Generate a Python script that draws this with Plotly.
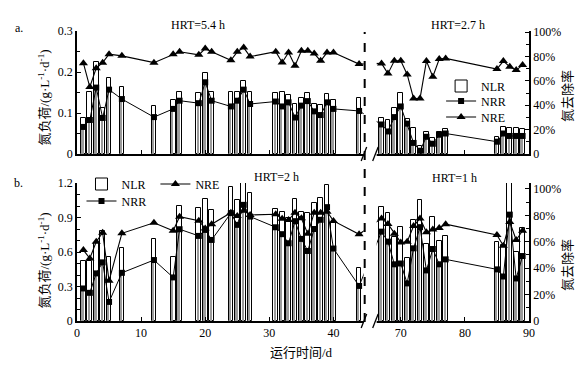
import plotly.graph_objects as go

# ---------------- data ----------------
days = [1, 2, 3, 4, 5, 7, 12, 15, 16, 19, 20, 21, 24, 25, 26, 27, 31, 32, 33, 34, 35, 36, 37, 38, 39, 40, 44,
        67, 68, 69, 70, 71, 72, 73, 74, 75, 76, 77, 85, 86, 87, 88, 89]

# panel a (HRT 5.4 h / 2.7 h)
nlr_a = [0.088, 0.152, 0.224, 0.113, 0.186, 0.163, 0.116, 0.132, 0.152, 0.148, 0.198, 0.152, 0.151, 0.152,
         0.178, 0.151, 0.149, 0.151, 0.144, 0.122, 0.136, 0.148, 0.122, 0.120, 0.147, 0.132, 0.136,
         0.088, 0.083, 0.112, 0.148, 0.085, 0.063, 0.020, 0.054, 0.040, 0.054, 0.061, 0.042, 0.065, 0.063,
         0.063, 0.061]
nrr_a = [0.066, 0.083, 0.162, 0.088, 0.157, 0.134, 0.090, 0.110, 0.130, 0.124, 0.175, 0.130, 0.116, 0.130,
         0.157, 0.122, 0.128, 0.116, 0.126, 0.089, 0.118, 0.129, 0.104, 0.095, 0.126, 0.110, 0.105,
         0.072, 0.055, 0.090, 0.116, 0.074, 0.027, 0.008, 0.042, 0.025, 0.047, 0.050, 0.030, 0.050, 0.044,
         0.044, 0.044]
nre_a = [74.6, 55.0, 70.5, 75.0, 82.0, 80.6, 75.0, 82.0, 84.0, 81.4, 86.6, 83.9, 77.0, 83.9, 87.4, 80.0,
         84.0, 75.1, 83.3, 72.4, 84.7, 84.7, 82.5, 76.5, 83.3, 83.3, 73.8,
         74.4, 66.0, 76.6, 76.6, 65.3, 45.5, 45.5, 76.3, 63.4, 78.0, 78.5, 69.7, 76.3, 71.7, 68.9, 73.0]

# panel b (HRT 2 h / 1 h)
nlr_b = [0.524, 0.524, 0.681, 0.783, 0.559, 0.632, 0.711, 0.554, 1.000, 0.981, 1.060, 0.967, 1.165, 1.054,
         1.205, 1.113, 0.973, 0.952, 0.900, 1.065, 0.945, 0.940, 1.025, 1.069, 1.185, 0.850, 0.465,
         0.990, 0.940, 0.730, 0.820, 0.545, 0.880, 1.050, 0.670, 0.908, 0.700, 0.740, 0.690, 0.660, 1.210,
         0.600, 0.810]
nrr_b = [0.283, 0.245, 0.414, 0.510, 0.166, 0.419, 0.530, 0.379, 0.798, 0.740, 0.792, 0.705, 0.938, 0.836,
         1.010, 0.908, 0.815, 0.755, 0.676, 0.868, 0.714, 0.609, 0.800, 0.880, 0.990, 0.630, 0.305,
         0.777, 0.690, 0.493, 0.500, 0.327, 0.632, 0.816, 0.440, 0.626, 0.493, 0.536, 0.449, 0.387, 0.925,
         0.370, 0.565]
nre_b = [53.7, 47.4, 60.0, 66.8, 30.4, 66.4, 74.4, 68.3, 79.0, 75.9, 70.0, 73.2, 82.0, 79.5, 83.5, 80.3,
         80.8, 77.5, 76.5, 82.0, 77.8, 66.0, 82.0, 82.0, 82.8, 75.8, 65.7,
         77.7, 73.5, 66.0, 59.5, 60.0, 71.9, 77.7, 67.2, 69.2, 70.5, 73.3, 65.1, 57.0, 75.0, 61.3, 68.3]

x_tick_days = [0, 10, 20, 30, 40, 70, 80, 90]
x_tick_labels = ["0", "10", "20", "30", "40", "70", "80", "90"]
ya_ticks = [0, 0.1, 0.2, 0.3]
ya_labels = ["0", "0.1", "0.2", "0.3"]
yb_ticks = [0, 0.3, 0.6, 0.9, 1.2]
yb_labels = ["0", "0.3", "0.6", "0.9", "1.2"]
yr_ticks = [0, 20, 40, 60, 80, 100]
yr_labels = ["0", "20%", "40%", "60%", "80%", "100%"]

# ---------------- broken x scale ----------------
SHIFT = 19.5          # days removed by the axis break


def xmap(d):
    return d - SHIFT if d > 55 else d


xs = [xmap(d) for d in days]
xt = [xmap(d) for d in x_tick_days]

# pixel helpers for decorations
L, R, T, B = 76.5, 54, 31, 49
W, H = 583, 370
PW, PH = W - L - R, H - T - B
XMAX = 90 - SHIFT


def px2x(px):
    return (px - L) / PW * XMAX


def py2p(py):
    return (H - B - py) / PH


def px2p(px):
    return (px - L) / PW


FONT = "Liberation Serif, Times New Roman, Noto Sans CJK SC, serif"

fig = go.Figure()

BW = 0.74


def add_panel(xa, ya, yr, nlr, nrr, nre, leg_bar, leg_nrr, leg_nre):
    fig.add_trace(go.Bar(x=xs, y=nlr, width=BW, name="NLR", xaxis=xa, yaxis=ya,
                         marker=dict(color="white", line=dict(color="black", width=1)),
                         legend=leg_bar))
    fig.add_trace(go.Bar(x=xs, y=nrr, width=0.3, offset=-0.25, xaxis=xa, yaxis=ya,
                         marker=dict(color="#9a9a9a", line=dict(width=0)), showlegend=False,
                         hoverinfo="skip", legend=leg_bar))
    fig.add_trace(go.Scatter(x=xs, y=nrr, mode="lines+markers", name="NRR", xaxis=xa, yaxis=ya,
                             line=dict(color="black", width=1),
                             marker=dict(symbol="square", size=6, color="black"), legend=leg_nrr))
    fig.add_trace(go.Scatter(x=xs, y=nre, mode="lines+markers", name="NRE", xaxis=xa, yaxis=yr,
                             line=dict(color="black", width=1.1),
                             marker=dict(symbol="triangle-up", size=8, color="black"), legend=leg_nre))


add_panel("x", "y", "y2", nlr_a, nrr_a, nre_a, "legend", "legend4", "legend5")
add_panel("x2", "y3", "y4", nlr_b, nrr_b, nre_b, "legend2", "legend6", "legend3")

top_dom = [py2p(154), 1]
bot_dom = [0, py2p(183)]

axis_common = dict(showline=True, linecolor="black", linewidth=1.5, showgrid=False, zeroline=False,
                   ticks="inside", ticklen=4, tickcolor="black", automargin=False,
                   tickfont=dict(family=FONT, size=12, color="black"))


def leg(px, py):
    return dict(x=px2p(px), y=py2p(py), xanchor="left", yanchor="middle", bgcolor="rgba(0,0,0,0)",
                font=dict(family=FONT, size=12, color="black"), tracegroupgap=0)


fig.update_layout(
    width=W, height=H, margin=dict(l=L, r=R, t=T, b=B, autoexpand=False),
    paper_bgcolor="white", plot_bgcolor="white",
    barmode="overlay", bargap=0,
    font=dict(family=FONT, size=12, color="black"),
    xaxis=dict(axis_common, domain=[0, 1], range=[0, XMAX], anchor="y",
               tickmode="array", tickvals=xt, showticklabels=False),
    xaxis2=dict(axis_common, domain=[0, 1], range=[0, XMAX], anchor="y3",
                tickmode="array", tickvals=xt, ticktext=x_tick_labels),
    yaxis=dict(axis_common, domain=top_dom, range=[0, 0.3], anchor="x",
               tickmode="array", tickvals=ya_ticks, ticktext=ya_labels,
               minor=dict(tickmode="array", tickvals=[0.05, 0.15, 0.25], ticks="inside", ticklen=3,
                          tickcolor="black")),
    yaxis2=dict(axis_common, domain=top_dom, range=[0, 101], anchor="x", overlaying="y", side="right",
                tickmode="array", tickvals=yr_ticks, ticktext=yr_labels,
                minor=dict(tickmode="array", tickvals=[10, 30, 50, 70, 90], ticks="inside", ticklen=3,
                           tickcolor="black")),
    yaxis3=dict(axis_common, domain=bot_dom, range=[0, 1.2], anchor="x2",
                tickmode="array", tickvals=yb_ticks, ticktext=yb_labels,
                minor=dict(tickmode="array", tickvals=[0.1, 0.2, 0.4, 0.5, 0.7, 0.8, 1.0, 1.1],
                           ticks="inside", ticklen=3, tickcolor="black")),
    yaxis4=dict(axis_common, domain=bot_dom, range=[0, 104.5], anchor="x2", overlaying="y3",
                side="right", tickmode="array", tickvals=yr_ticks, ticktext=yr_labels,
                minor=dict(tickmode="array", tickvals=[10, 30, 50, 70, 90], ticks="inside", ticklen=3,
                           tickcolor="black")),
    legend=leg(441, 86),
    legend4=leg(441, 101),
    legend5=leg(441, 117),
    legend2=leg(81, 184),
    legend6=leg(81, 201),
    legend3=leg(155, 184),
    showlegend=True,
)

# ---------------- axis break decorations ----------------
gx0, gx1 = px2x(363.5), px2x(376.5)
dash_x = px2x(364.5)
shapes = []
for (ytop, ybot, xref) in [(31, 158, "x"), (183, 325, "x2")]:
    shapes.append(dict(type="rect", xref=xref, yref="paper", x0=gx0, x1=gx1,
                       y0=py2p(ybot), y1=py2p(ytop), fillcolor="white", line=dict(width=0),
                       layer="above"))
shapes.append(dict(type="line", xref="x", yref="paper", x0=dash_x, x1=dash_x,
                   y0=py2p(322), y1=py2p(32), line=dict(color="black", width=2, dash="dash"),
                   layer="above"))
for (ay, xref) in [(154, "x"), (321, "x2")]:
    for sx in (361.0, 372.5):
        shapes.append(dict(type="line", xref=xref, yref="paper", x0=px2x(sx), x1=px2x(sx + 5.5),
                           y0=py2p(ay + 7), y1=py2p(ay - 7), line=dict(color="black", width=1.3),
                           layer="above"))
fig.update_layout(shapes=shapes)

# ---------------- text ----------------
ann = []


def add_text(txt, px, py, size=12, angle=0, family=FONT):
    ann.append(dict(text=txt, xref="paper", yref="paper", x=px2p(px), y=py2p(py),
                    xanchor="center", yanchor="middle", showarrow=False, textangle=angle,
                    font=dict(family=family, size=size, color="black")))


add_text("a.", 18, 28)
add_text("b.", 18, 183)
add_text("HRT=5.4 h", 198, 25)
add_text("HRT=2.7 h", 458, 25)
add_text("HRT=2 h", 276, 177)
add_text("HRT=1 h", 454, 178)
ytitle = "氮负荷/(g·L<sup>-1</sup>·d<sup>-1</sup>)"
add_text(ytitle, 43, 98, size=13, angle=-90)
add_text(ytitle, 43, 261, size=13, angle=-90)
add_text("氮去除率", 567, 96, size=13, angle=-90)
add_text("氮去除率", 567, 265, size=13, angle=-90)
add_text("运行时间/d", 301, 352, size=13)
fig.update_layout(annotations=ann)

fig.write_html("out.html", config={"displayModeBar": False},
               post_script="document.body.style.margin='0px';document.body.style.overflow='hidden';")
